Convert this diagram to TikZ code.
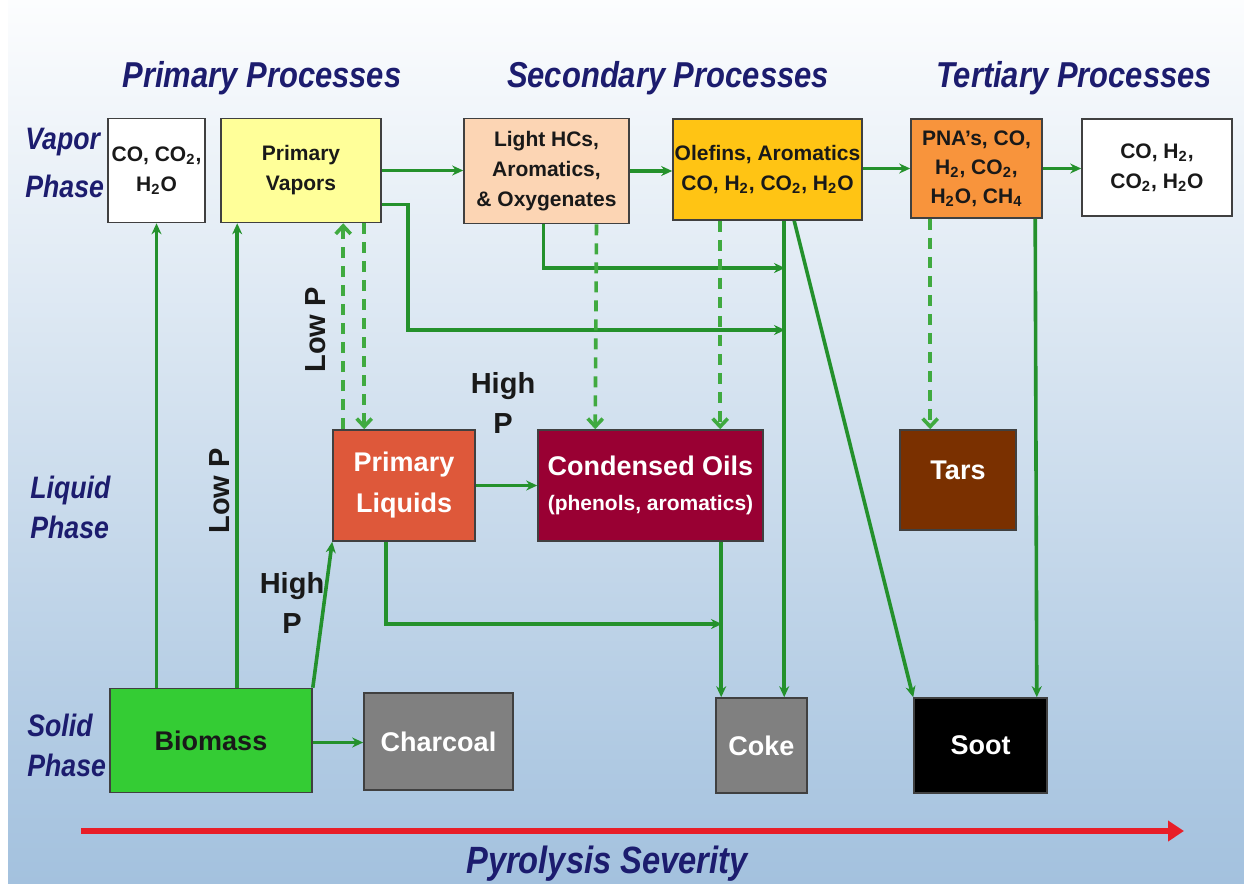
\documentclass[tikz,border=0pt]{standalone}
\usepackage{fontspec}
\setmainfont{Liberation Sans}
\newfontfamily\headfont{Liberation Sans}[FakeStretch=0.86]
\usetikzlibrary{arrows.meta}

\definecolor{flowgreen}{RGB}{36,145,44}
\definecolor{dashgreen}{RGB}{64,170,64}
\definecolor{navy}{RGB}{28,28,110}
\definecolor{pvyellow}{RGB}{255,255,153}
\definecolor{lhcpeach}{RGB}{252,213,180}
\definecolor{olefgold}{RGB}{255,196,20}
\definecolor{pnaorange}{RGB}{248,148,60}
\definecolor{pliqred}{RGB}{222,88,58}
\definecolor{coilred}{RGB}{153,0,51}
\definecolor{tarbrown}{RGB}{122,48,0}
\definecolor{biogreen}{RGB}{52,204,52}
\definecolor{chargray}{RGB}{128,128,128}
\definecolor{sevred}{RGB}{232,30,40}

\begin{document}
\begin{tikzpicture}[x=0.5pt,y=-0.5pt,
    box/.style={draw=black!75, line width=0.8pt, inner sep=0pt, align=center,
        text=black!90, font=\bfseries\fontsize{10.5}{15}\selectfont},
    bigbox/.style={box, text=white, font=\bfseries\fontsize{13.5}{20.5}\selectfont},
    flow/.style={draw=flowgreen, line width=1.8pt, -{Stealth[length=5.5pt,width=5pt]}},
    flowd/.style={draw=dashgreen, line width=1.8pt, dash pattern=on 5.5pt off 4pt,
        -{Straight Barb[length=4pt,width=7.5pt]}},
    head/.style={text=navy, font=\headfont\bfseries\itshape\fontsize{18}{22}\selectfont, inner sep=0pt},
    phase/.style={text=navy, align=left, anchor=west, inner sep=0pt},
    press/.style={text=black!90, align=center, inner sep=0pt, font=\bfseries\fontsize{14.5}{20}\selectfont}]

    \useasboundingbox (0,0) rectangle (1244,884);
    \fill[white] (0,0) rectangle (1244,884);
    \shade[top color={rgb,255:red,252;green,253;blue,254}, middle color={rgb,255:red,218;green,228;blue,240},
        bottom color={rgb,255:red,163;green,193;blue,222}] (8,0) rectangle (1244,884);

    % headings and phases
    \node[head, anchor=base] (title1) at (262,87) {Primary Processes};
    \node[head, anchor=base] (title2) at (668,87) {Secondary Processes};
    \node[head, anchor=base] (title3) at (1074,87) {Tertiary Processes};
    \node[phase, font=\headfont\bfseries\itshape\fontsize{15.5}{24}\selectfont] (vaplab) at (25,163) {Vapor\\Phase};
    \node[phase, font=\headfont\bfseries\itshape\fontsize{15.5}{20}\selectfont] (liqlab) at (30,507) {Liquid\\Phase};
    \node[phase, font=\headfont\bfseries\itshape\fontsize{15.5}{20}\selectfont] (sollab) at (27,745) {Solid\\Phase};

    % vapor phase
    \node[box, fill=white, minimum width=48.5pt, minimum height=52pt] (co1) at (156.5,170.5)
        {CO, CO\textsubscript{2},\\H\textsubscript{2}O};
    \node[box, fill=pvyellow, minimum width=80pt, minimum height=52pt] (pvap) at (301,170.5)
        {Primary\\Vapors};
    \node[box, fill=lhcpeach, minimum width=82.5pt, minimum height=52.5pt] (lhc) at (546.5,171)
        {Light HCs,\\Aromatics,\\\& Oxygenates};
    \node[box, fill=olefgold, minimum width=94.5pt, minimum height=50.5pt] (olef) at (767.5,169.5)
        {Olefins, Aromatics\\CO, H\textsubscript{2}, CO\textsubscript{2}, H\textsubscript{2}O};
    \node[box, fill=pnaorange, minimum width=65.5pt, minimum height=49.5pt, font=\bfseries\fontsize{10.5}{14.5}\selectfont] (pna) at (976.5,168.5)
        {PNA's, CO,\\H\textsubscript{2}, CO\textsubscript{2},\\H\textsubscript{2}O, CH\textsubscript{4}};
    \node[box, fill=white, minimum width=75pt, minimum height=48.5pt] (gas) at (1157,167.5)
        {CO, H\textsubscript{2},\\CO\textsubscript{2}, H\textsubscript{2}O};

    % liquid phase
    \node[bigbox, fill=pliqred, minimum width=71pt, minimum height=55.5pt] (pliq) at (404,485.5)
        {Primary\\Liquids};
    \node[bigbox, fill=coilred, minimum width=112.5pt, minimum height=55.5pt] (coil) at (650.5,485.5)
        {Condensed Oils\\[-3pt]{\fontsize{10.5}{13}\selectfont(phenols, aromatics)}};
    \node[bigbox, fill=tarbrown, minimum width=58pt, minimum height=50pt, text depth=10pt] (tars) at (958,480)
        {Tars};

    % solid phase
    \node[bigbox, fill=biogreen, text=black!90, minimum width=101pt, minimum height=52pt] (bio) at (211,740.5) {Biomass};
    \node[bigbox, fill=chargray, minimum width=74.5pt, minimum height=48.5pt] (char) at (438.5,741.5) {Charcoal};
    \node[bigbox, fill=chargray, minimum width=45.5pt, minimum height=47.5pt] (coke) at (761.5,745.5) {Coke};
    \node[bigbox, fill=black, minimum width=66.5pt, minimum height=47.5pt] (soot) at (980.5,745.5) {Soot};

    \node[press, rotate=90] (lowpA) at (220,491) {Low P};
    \node[press, rotate=90] (lowpB) at (316,330) {Low P};
    \node[press] (highpA) at (292,603) {High\\P};
    \node[press] (highpB) at (503,403) {High\\P};

    \coordinate (mergeA) at (785,268);
    \coordinate (mergeB) at (785,330);
    \coordinate (mergeC) at (722,624);

    % connectors
    \draw[flow] (bio.north -| co1.south) -- (co1.south);
    \draw[flow] ([xshift=64pt]bio.north west) -- ([xshift=8.5pt]pvap.south west);
    \draw[flow] (bio.north east) -- (pliq.south west);
    \draw[flow] ([yshift=-1pt]bio.east) -- ([yshift=-1pt]bio.east -| char.west);
    \draw[flowd] ([xshift=5.5pt]pliq.north west) -- ([xshift=61.5pt]pvap.south west);
    \draw[flowd] ([xshift=72pt]pvap.south west) -- ([xshift=16pt]pliq.north west);
    \draw[flow] (pvap.east) -- (pvap.east -| lhc.west);
    \draw[flow] (lhc.east) -- (lhc.east -| olef.west);
    \draw[flow] (olef.east |- pna.west) -- (pna.west);
    \draw[flow] (pna.east) -- (pna.east -| gas.west);
    \draw[flow] ([yshift=-17pt]pvap.east) -- ++(13pt,0) |- (mergeB);
    \draw[flow] ([xshift=-1.5pt]lhc.south) |- (mergeA);
    \draw[flowd] ([xshift=25pt]lhc.south) -- ([xshift=29pt]coil.north west);
    \draw[flowd] ([xshift=24pt]olef.south west) -- ([xshift=91.5pt]coil.north west);
    \draw[flow] ([xshift=56pt]olef.south west) -- ([xshift=34.5pt]coke.north west);
    \draw[flow] ([xshift=61pt]olef.south west) -- (soot.north west);
    \draw[flowd] ([xshift=10pt]pna.south west) -- ([xshift=15.5pt]tars.north west);
    \draw[flow] ([xshift=62.5pt]pna.south west) -- ([xshift=-5.5pt]soot.north east);
    \draw[flow] (pliq.east) -- (coil.west);
    \draw[flow] ([xshift=-9pt]pliq.south) |- (mergeC);
    \draw[flow] ([xshift=92pt]coil.south west) -- ([xshift=3pt]coke.north west);

    % severity axis
    \coordinate (sevL) at (81,831);
    \coordinate (sevR) at (1184,831);
    \draw[sevred, line width=3pt, -{Triangle[length=8pt,width=10pt]}] (sevL) -- (sevR);
    \node[head, anchor=base, font=\headfont\bfseries\itshape\fontsize{19}{22}\selectfont] (sevlab) at (607,873) {Pyrolysis Severity};
\end{tikzpicture}
\end{document}
